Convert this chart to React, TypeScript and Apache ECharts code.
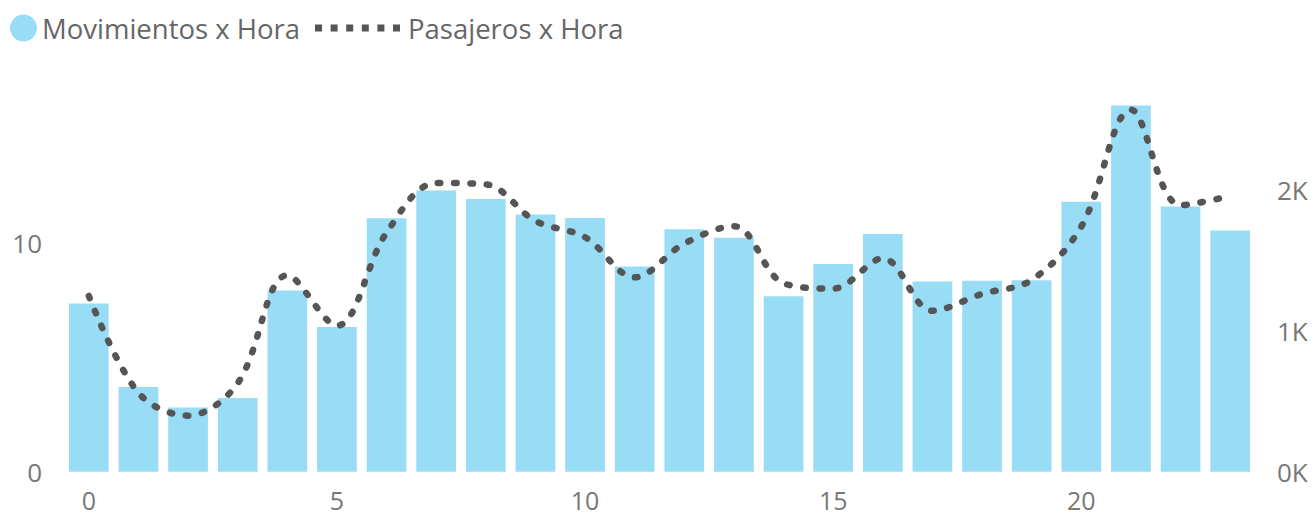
import React, { useEffect, useRef } from "react";
import * as echarts from "echarts";

// Hour of day (0–23)
const hours: string[] = Array.from({ length: 24 }, (_, i) => String(i));

// Average aircraft movements per hour (left axis)
const movimientos: number[] = [
  7.35, 3.7, 2.81, 3.22, 7.92, 6.32, 11.07, 12.29, 11.92, 11.24, 11.08, 8.97,
  10.59, 10.22, 7.67, 9.07, 10.39, 8.31, 8.34, 8.37, 11.79, 16.0, 11.59, 10.54,
];

// Passengers per hour (right axis)
const pasajeros: number[] = [
  1248, 560, 398, 628, 1395, 1037, 1697, 2050, 2040, 1780, 1665, 1380, 1620,
  1743, 1338, 1300, 1515, 1143, 1262, 1361, 1740, 2570, 1892, 1958,
];

const FONT = '"Segoe UI", "Open Sans", sans-serif';
const BAR_COLOR = "#99dcf5";
const LINE_COLOR = "#555555";
const LABEL_COLOR = "#777777";

// six small squares used as the dotted-line legend icon
const dotsIcon =
  "path://" +
  [0, 15.6, 31.2, 46.8, 62.4, 78]
    .map((x) => `M${x} 0h7v7h-7z`)
    .join(" ");

export default function App() {
  const ref = useRef<HTMLDivElement>(null);

  useEffect(() => {
    if (!ref.current) return;
    const chart = echarts.init(ref.current, undefined, { renderer: "svg" });
    chart.setOption({
      animation: false,
      backgroundColor: "#ffffff",
      textStyle: { fontFamily: FONT },
      legend: [
        {
          data: ["Movimientos x Hora"],
          left: 10,
          top: 14,
          icon: "circle",
          itemWidth: 27,
          itemHeight: 27,
          padding: 0,
          textStyle: { color: "#666666", fontSize: 27.5, fontFamily: FONT, lineHeight: 27 },
        },
        {
          data: ["Pasajeros x Hora"],
          left: 315,
          top: 14,
          icon: dotsIcon,
          itemWidth: 85,
          itemHeight: 7,
          padding: 0,
          itemStyle: { color: LINE_COLOR },
          textStyle: {
            color: "#666666",
            fontSize: 27.5,
            fontFamily: FONT,
            lineHeight: 27,
            padding: [0, 0, 0, 3],
          },
        },
      ],
      grid: {
        left: 64,
        right: 58,
        top: 105.5,
        bottom: 45.3,
        containLabel: false,
        outerBoundsMode: "none",
      },
      xAxis: {
        type: "category",
        data: hours,
        axisLine: { show: false },
        axisTick: { show: false },
        axisLabel: {
          interval: 4,
          color: LABEL_COLOR,
          fontSize: 25,
          lineHeight: 22,
          fontFamily: FONT,
          margin: 17,
        },
      },
      yAxis: [
        {
          type: "value",
          min: 0,
          max: 16,
          interval: 10,
          splitLine: { show: false },
          axisLine: { show: false },
          axisTick: { show: false },
          axisLabel: {
            showMaxLabel: false,
            color: LABEL_COLOR,
            fontSize: 26,
            fontFamily: FONT,
            margin: 22,
          },
        },
        {
          type: "value",
          min: 0,
          max: 2600,
          interval: 1000,
          position: "right",
          splitLine: { show: false },
          axisLine: { show: false },
          axisTick: { show: false },
          axisLabel: {
            showMaxLabel: false,
            color: LABEL_COLOR,
            fontSize: 26,
            fontFamily: FONT,
            margin: 22,
            formatter: (v: number) => `${v / 1000}K`,
          },
        },
      ],
      series: [
        {
          name: "Movimientos x Hora",
          type: "bar",
          yAxisIndex: 0,
          data: movimientos,
          barCategoryGap: "20%",
          itemStyle: { color: BAR_COLOR },
        },
        {
          name: "Pasajeros x Hora",
          type: "line",
          yAxisIndex: 1,
          data: pasajeros,
          smooth: 0.35,
          symbol: "none",
          showSymbol: false,
          z: 5,
          itemStyle: { color: LINE_COLOR },
          lineStyle: {
            color: LINE_COLOR,
            width: 6.5,
            type: [2.5, 13.8],
            cap: "round",
          },
        },
      ],
    });
    return () => chart.dispose();
  }, []);

  return (
    <div
      ref={ref}
      style={{ position: "fixed", left: 0, top: 0, width: 1313, height: 517 }}
    />
  );
}
